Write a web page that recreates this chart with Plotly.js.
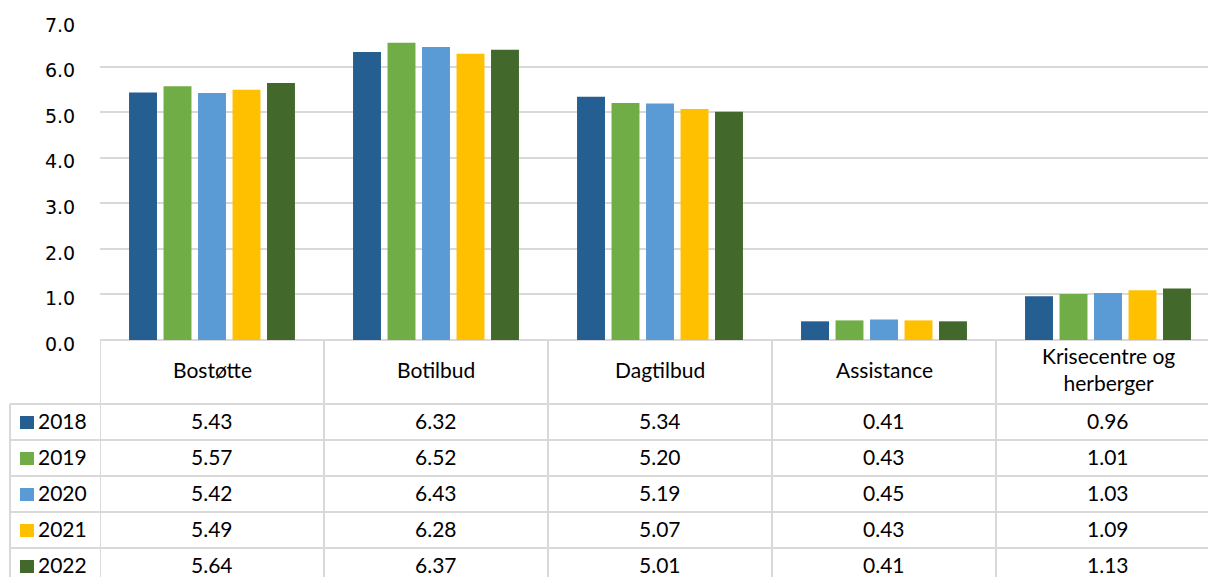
<!DOCTYPE html>
<html>
<head>
<meta charset="utf-8">
<script src="https://cdn.plot.ly/plotly-3.0.1.min.js"></script>
<style>
html,body{margin:0;padding:0;overflow:hidden;background:#fff;}
#chart{width:1230px;height:577px;}
</style>
</head>
<body>
<div id="chart"></div>
<script>
// ---- data ----
const categories = ["Bostøtte", "Botilbud", "Dagtilbud", "Assistance", "Krisecentre og<br>herberger"];
const years = ["2018", "2019", "2020", "2021", "2022"];
const v2018 = [5.43, 6.32, 5.34, 0.41, 0.96];
const v2019 = [5.57, 6.52, 5.20, 0.43, 1.01];
const v2020 = [5.42, 6.43, 5.19, 0.45, 1.03];
const v2021 = [5.49, 6.28, 5.07, 0.43, 1.09];
const v2022 = [5.64, 6.37, 5.01, 0.41, 1.13];
const yTicks = [0, 1, 2, 3, 4, 5, 6, 7];
const yTickLabels = ["0.0", "1.0", "2.0", "3.0", "4.0", "5.0", "6.0", "7.0"];

const seriesValues = [v2018, v2019, v2020, v2021, v2022];
const colors = ["#255E91", "#70AD47", "#5B9BD5", "#FFC000", "#43682B"];

// ---- layout geometry (pixels) ----
const W = 1230, H = 577;
const mL = 100, mR = 10, mT = 21, mB = 237;
const plotW = W - mL - mR, plotH = H - mT - mB;
const baseY = H - mB; // pixel of y=0
const py = p => (baseY - p) / plotH;      // pixel y -> paper y
const px = p => (p - mL) / plotW;          // pixel x -> paper x

const gridColor = "#D9D9D9";
const tableFont = {family: "Lato, 'Open Sans', sans-serif", size: 21, color: "#000"};

const idx = categories.map((c, i) => i);

const traces = seriesValues.map((vals, s) => ({
  type: "bar",
  name: years[s],
  x: idx,
  y: vals,
  marker: {color: colors[s]},
  hoverinfo: "y+name"
}));

// table rows (pixel boundaries)
const headerBottom = 404;
const rowLines = [404, 440, 476, 512, 548, 584];

const shapes = [];
const annotations = [];

// horizontal lines of table
rowLines.forEach(r => {
  shapes.push({type: "line", xref: "paper", yref: "paper",
    x0: px(10), x1: 1, y0: py(r), y1: py(r),
    line: {color: gridColor, width: 2}});
});
// left border of legend column
shapes.push({type: "line", xref: "paper", yref: "paper",
  x0: px(10), x1: px(10), y0: py(headerBottom), y1: py(600),
  line: {color: gridColor, width: 2}});
// vertical lines at category boundaries
for (let i = 0; i <= categories.length; i++) {
  shapes.push({type: "line", xref: "x", yref: "paper",
    x0: i - 0.5, x1: i - 0.5, y0: 0, y1: py(600),
    line: {color: gridColor, width: 2}});
}

// header labels
categories.forEach((c, i) => {
  annotations.push({xref: "x", yref: "paper", x: i, y: py(369),
    text: c, showarrow: false, font: tableFont, align: "center",
    xanchor: "center", yanchor: "middle"});
});

// rows: legend keys + values
years.forEach((yr, s) => {
  const top = rowLines[s];
  const cy = top + 17;          // visual centre of digits
  const ty = cy - 1;            // text box centre
  shapes.push({type: "rect", xref: "paper", yref: "paper",
    x0: px(20), x1: px(34), y0: py(cy - 5), y1: py(cy + 8),
    fillcolor: colors[s], line: {width: 0}});
  annotations.push({xref: "paper", yref: "paper", x: px(36), y: py(ty),
    text: yr, showarrow: false, font: tableFont,
    xanchor: "left", yanchor: "middle"});
  seriesValues[s].forEach((v, i) => {
    annotations.push({xref: "x", yref: "paper", x: i, y: py(ty),
      text: v.toFixed(2), showarrow: false, font: tableFont,
      xanchor: "center", yanchor: "middle"});
  });
});

const layout = {
  width: W, height: H,
  margin: {l: mL, r: mR, t: mT, b: mB, pad: 0},
  paper_bgcolor: "#fff", plot_bgcolor: "#fff",
  barmode: "group",
  bargap: 0.23,
  bargroupgap: 0.19,
  showlegend: false,
  xaxis: {
    type: "linear",
    range: [-0.5, categories.length - 0.5],
    showticklabels: false, showgrid: false, zeroline: false,
    ticks: "", showline: false, fixedrange: true
  },
  yaxis: {
    range: [0, 7],
    tickvals: yTicks, ticktext: yTickLabels,
    showgrid: true, gridcolor: gridColor, gridwidth: 2,
    zeroline: true, zerolinecolor: gridColor, zerolinewidth: 2,
    showline: false, ticks: "outside", ticklen: 20, tickcolor: "rgba(0,0,0,0)",
    ticklabelshift: 4,
    tickfont: {family: "DejaVu Sans", size: 19, color: "#000"},
    fixedrange: true
  },
  shapes: shapes,
  annotations: annotations
};

Plotly.newPlot("chart", traces, layout, {displayModeBar: false, staticPlot: true});
</script>
</body>
</html>
